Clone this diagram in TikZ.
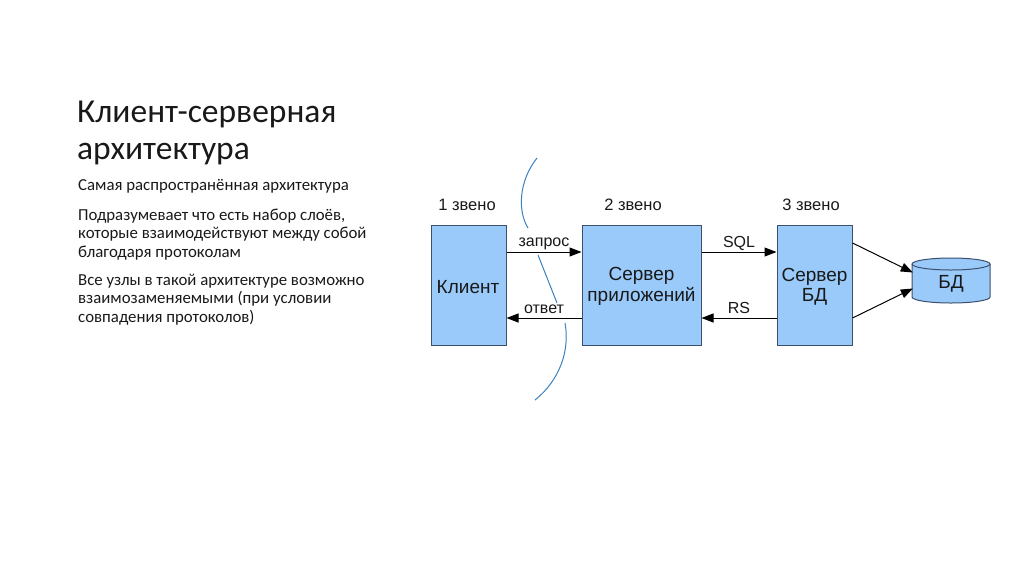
\documentclass[tikz,border=0pt]{standalone}
\usepackage{fontspec}
\setmainfont{Carlito}
\newfontfamily\arialf{Liberation Sans}
\usetikzlibrary{arrows.meta,calc}
\definecolor{boxfill}{RGB}{153,202,250}
\definecolor{boxline}{RGB}{60,80,110}
\definecolor{cutline}{RGB}{60,130,190}
\definecolor{txt}{RGB}{25,25,25}
\tikzset{
  tier/.style={draw=boxline, line width=1pt, fill=boxfill, inner sep=0pt, font=\arialf\fontsize{19}{20.5}\selectfont, text=txt, align=center},
  conn/.style={draw=black, line width=1pt, -{Triangle[length=12pt,width=9pt]}},
  lbl/.style={font=\arialf\fontsize{16.5}{18}\selectfont, text=txt},
  albl/.style={font=\arialf\fontsize{16}{18}\selectfont, text=txt, inner sep=0pt},
  ttl/.style={anchor=base west, inner sep=0pt, text=txt, font=\fontsize{33.5}{37}\selectfont},
  body/.style={anchor=base west, inner sep=0pt, text=txt, align=left, font=\fontsize{16.8}{18.5}\selectfont},
}
\begin{document}
\begin{tikzpicture}[x=1pt,y=-1pt]
\useasboundingbox[fill=white] (0,0) rectangle (1024,574);
% left text
\node[ttl] (t1) at (77,122) {Клиент-серверная};
\node[ttl] (t2) at (77,159) {архитектура};
\node[body] (p1) at (78,190) {Самая распространённая архитектура};
\node[body] (p2) at (78,257) {Подразумевает что есть набор слоёв,\\которые взаимодействуют между собой\\благодаря протоколам};
\node[body] (p3) at (78,322) {Все узлы в такой архитектуре возможно\\взаимозаменяемыми (при условии\\совпадения протоколов)};
% tiers
\node[tier, minimum width=75pt, minimum height=120pt] (client) at (468.5,285) {};
\node[tier, draw=none, fill=none] (clientl) at (468,287) {Клиент};
\node[tier, minimum width=119pt, minimum height=120pt] (app) at (641.5,285) {};
\node[tier, draw=none, fill=none] (appl) at (641.5,286.5) {Сервер\\приложений};
\node[tier, minimum width=75pt, minimum height=120pt] (dbs) at (814.5,285) {};
\node[tier, draw=none, fill=none] (dbsl) at (814.5,286.5) {Сервер\\БД};
\node[lbl] (z1) at (467,205) {1 звено};
\node[lbl] (z2) at (633,205) {2 звено};
\node[lbl] (z3) at (811,205) {3 звено};
% database cylinder
\node[inner sep=0pt, minimum width=78pt, minimum height=45pt] (db) at (951,280.5) {};
\draw[boxline, line width=1pt, fill=boxfill] (912,264) -- (912,297) arc[start angle=180, end angle=360, x radius=39pt, y radius=6pt] -- (990,264) arc[start angle=0, end angle=180, x radius=39pt, y radius=6pt] -- cycle;
\draw[boxline, line width=1pt] (912,264) arc[start angle=180, end angle=360, x radius=39pt, y radius=6pt];
\node[font=\arialf\fontsize{19}{20}\selectfont, text=txt] (dbl) at (951,284) {БД};
% connectors
\draw[conn] ($(client.east)+(0,-33)$) -- ($(app.west)+(0,-33)$);
\draw[conn] ($(app.west)+(0,33)$) -- ($(client.east)+(0,33)$);
\draw[conn] ($(app.east)+(0,-33)$) -- ($(dbs.west)+(0,-33)$);
\draw[conn] ($(dbs.west)+(0,33)$) -- ($(app.east)+(0,33)$);
\node[albl] (zap) at (544,243.5) {запрос};
\node[albl] (otv) at (544,309.5) {ответ};
\node[albl] (sql) at (739,243) {SQL};
\node[albl] (rs) at (739,308) {RS};
\draw[conn] ($(dbs.east)+(0,-42)$) -- ($(db.west)+(1,-8)$);
\draw[conn] ($(dbs.east)+(0,33)$) -- ($(db.west)+(1,8)$);
% cut line
\draw[cutline, line width=1pt] (537,158) .. controls (518,182) and (518,212) .. (528,228);
\draw[cutline, line width=1pt] (538,255) -- (557,303);
\draw[cutline, line width=1pt] (565,323) .. controls (570,350) and (560,380) .. (535,400);
\end{tikzpicture}
\end{document}
